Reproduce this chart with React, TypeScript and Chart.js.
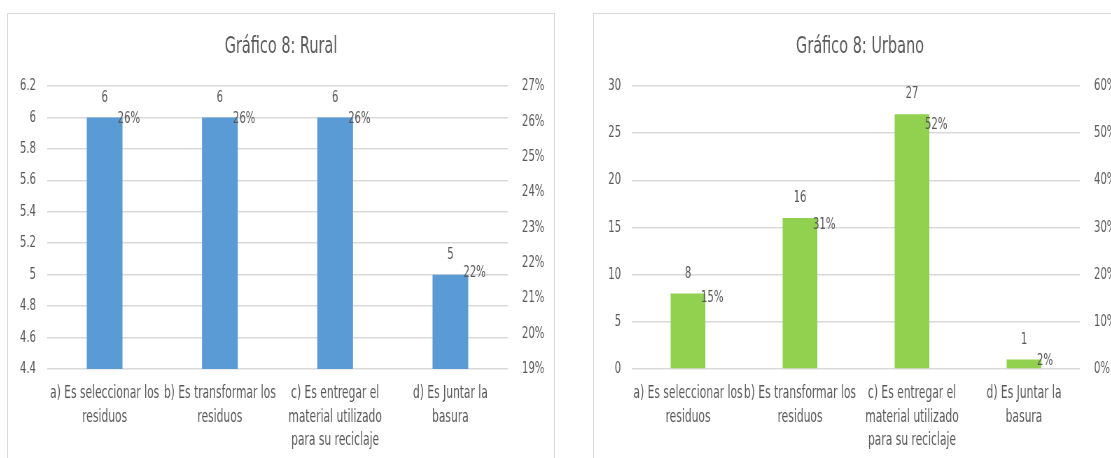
import React, { useEffect, useRef } from "react";
import { Chart, registerables } from "chart.js";

Chart.register(...registerables);

const categories: string[][] = [
  ["a) Es seleccionar los", "residuos"],
  ["b) Es transformar los", "residuos"],
  ["c) Es entregar el", "material utilizado", "para su reciclaje"],
  ["d) Es Juntar la", "basura"],
];
const ruralTitle = "Gráfico 8: Rural";
const ruralCounts = [6, 6, 6, 5];
const ruralPercents = [26.09, 26.09, 26.09, 21.74];
const urbanTitle = "Gráfico 8: Urbano";
const urbanCounts = [8, 16, 27, 1];
const urbanPercents = [15.38, 30.77, 51.92, 1.92];

const FONT = '"DejaVu Sans Condensed", "Liberation Sans Narrow", "Liberation Sans", sans-serif';
const TEXT = "#595959";
const GRID = "#d9d9d9";
// horizontal compression of the drawing (narrow, Calibri-like text)
const SX = 0.7;

function makeLabelPlugin(offsetX: number) {
  return {
    id: "valueLabels",
    afterDatasetsDraw(chart: any) {
      const ctx = chart.ctx;
      ctx.save();
      ctx.font = `16px ${FONT}`;
      ctx.fillStyle = TEXT;
      ctx.textBaseline = "middle";
      const bars = chart.getDatasetMeta(0);
      bars.data.forEach((el: any, i: number) => {
        ctx.textAlign = "center";
        ctx.fillText(String(chart.data.datasets[0].data[i]), el.x, el.y - 20);
      });
      const pts = chart.getDatasetMeta(1);
      pts.data.forEach((el: any, i: number) => {
        ctx.textAlign = "left";
        ctx.fillText(Math.round(chart.data.datasets[1].data[i]) + "%", el.x + offsetX, el.y + 1);
      });
      ctx.restore();
    },
  };
}

type Cfg = {
  title: string;
  counts: number[];
  percents: number[];
  color: string;
  yMin: number;
  yMax: number;
  yStep: number;
  y1Min: number;
  y1Max: number;
  y1Step: number;
  yWidth: number;
  y1Width: number;
};

function ComboChart({ cfg, width, height }: { cfg: Cfg; width: number; height: number }) {
  const ref = useRef<HTMLCanvasElement | null>(null);
  const attrW = Math.round(width / SX);
  const k = attrW / width; // css px -> canvas px
  useEffect(() => {
    if (!ref.current) return;
    const chart = new Chart(ref.current, {
      type: "bar",
      data: {
        labels: categories,
        datasets: [
          {
            type: "bar",
            data: cfg.counts,
            backgroundColor: cfg.color,
            barPercentage: 0.31,
            categoryPercentage: 1,
            yAxisID: "y",
          } as any,
          {
            type: "line",
            data: cfg.percents,
            showLine: false,
            pointRadius: 0,
            pointHoverRadius: 0,
            yAxisID: "y1",
          } as any,
        ],
      },
      options: {
        responsive: false,
        animation: false,
        devicePixelRatio: 1,
        layout: { padding: 0 },
        plugins: {
          legend: { display: false },
          tooltip: { enabled: false },
          title: {
            display: true,
            text: cfg.title,
            color: TEXT,
            font: { family: FONT, size: 23, weight: "normal" as any, lineHeight: 1.2 },
            padding: { top: 19.2, bottom: 25.2 },
          },
        },
        scales: {
          x: {
            grid: { display: false, drawTicks: false },
            border: { display: false },
            ticks: {
              color: TEXT,
              font: { family: FONT, size: 17, lineHeight: "23.5px" },
              padding: 13,
              maxRotation: 0,
              minRotation: 0,
              autoSkip: false,
            },
            afterFit: (s: any) => {
              s.height = height - 355;
              s.paddingLeft = 0;
              s.paddingRight = 0;
            },
          },
          y: {
            position: "left",
            min: cfg.yMin,
            max: cfg.yMax,
            ticks: {
              stepSize: cfg.yStep,
              color: TEXT,
              font: { family: FONT, size: 16 },
              padding: 11 * k,
              callback: (v: any) => String(Math.round(Number(v) * 10) / 10),
            },
            grid: { color: GRID, lineWidth: 1.5, drawTicks: false },
            border: { display: false },
            afterFit: (s: any) => {
              s.width = cfg.yWidth * k;
            },
          },
          y1: {
            position: "right",
            min: cfg.y1Min,
            max: cfg.y1Max,
            ticks: {
              stepSize: cfg.y1Step,
              color: TEXT,
              font: { family: FONT, size: 16 },
              padding: 14 * k,
              callback: (v: any) => Math.round(Number(v)) + "%",
            },
            grid: { display: false, drawTicks: false },
            border: { display: false },
            afterFit: (s: any) => {
              s.width = cfg.y1Width * k;
            },
          },
        },
      } as any,
      plugins: [makeLabelPlugin(13 * k)],
    });
    return () => chart.destroy();
  }, []);
  return (
    <canvas
      ref={ref}
      width={attrW}
      height={height}
      style={{ display: "block", width: `${width}px`, height: `${height}px` }}
    />
  );
}

const ruralCfg: Cfg = {
  title: ruralTitle,
  counts: ruralCounts,
  percents: ruralPercents,
  color: "#5b9bd5",
  yMin: 4.4,
  yMax: 6.2,
  yStep: 0.2,
  y1Min: 19,
  y1Max: 27,
  y1Step: 1,
  yWidth: 39,
  y1Width: 46,
};

const urbanCfg: Cfg = {
  title: urbanTitle,
  counts: urbanCounts,
  percents: urbanPercents,
  color: "#92d050",
  yMin: 0,
  yMax: 30,
  yStep: 5,
  y1Min: 0,
  y1Max: 60,
  y1Step: 10,
  yWidth: 38,
  y1Width: 46,
};

export default function App() {
  return (
    <div
      style={{
        position: "absolute",
        left: 0,
        top: 0,
        width: 1111,
        height: 458,
        overflow: "hidden",
        background: "#fff",
      }}
    >
      <div
        style={{
          position: "absolute",
          left: 7,
          top: 13,
          width: 546,
          height: 470,
          border: `1px solid ${GRID}`,
        }}
      >
        <ComboChart cfg={ruralCfg} width={546} height={444} />
      </div>
      <div
        style={{
          position: "absolute",
          left: 593,
          top: 13,
          width: 532,
          height: 470,
          border: `1px solid ${GRID}`,
        }}
      >
        <ComboChart cfg={urbanCfg} width={532} height={444} />
      </div>
    </div>
  );
}
